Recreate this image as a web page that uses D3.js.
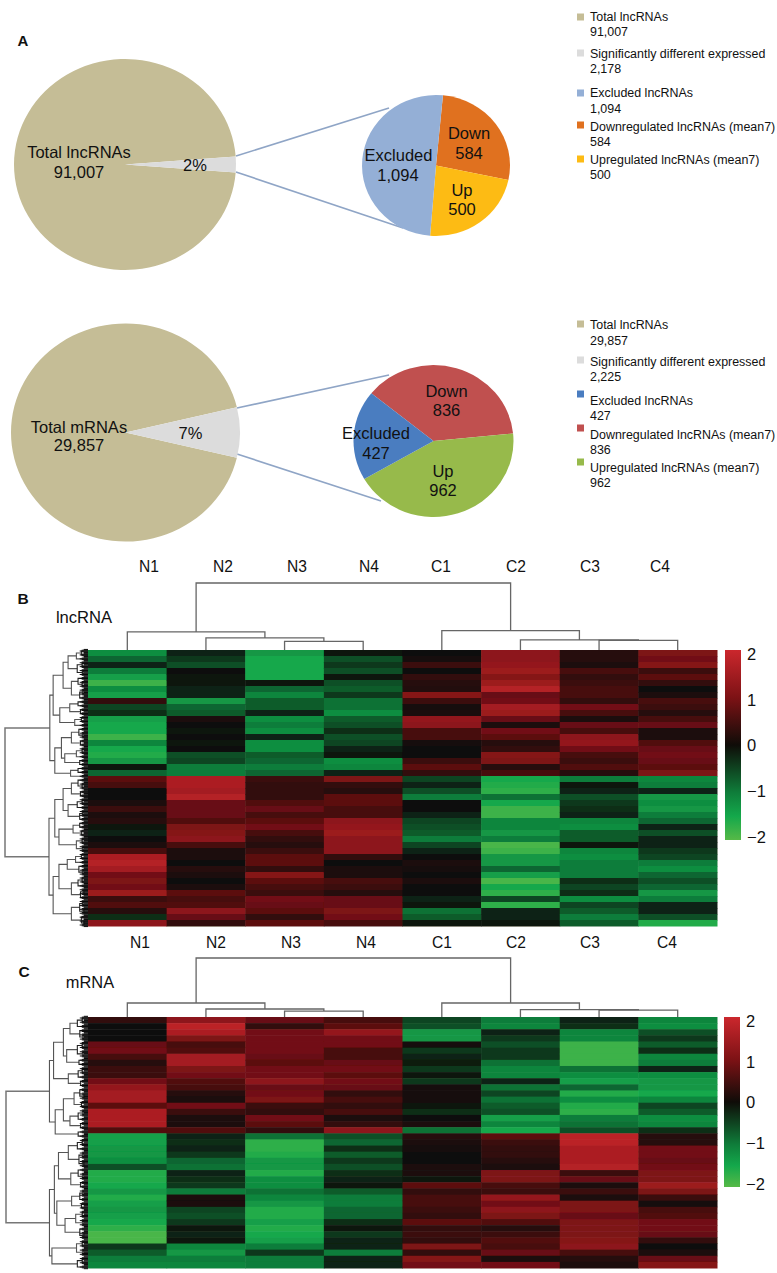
<!DOCTYPE html>
<html><head><meta charset="utf-8">
<script src="https://cdn.jsdelivr.net/npm/d3@7"></script>
<style>html,body{margin:0;padding:0;background:#fff}svg{display:block}text{font-family:"Liberation Sans",Arial,sans-serif;fill:#111}</style>
</head><body><svg id="c" width="777" height="1273"></svg>
<script>
// ---- pie data ----
const lncTotals=[{k:"rest",v:88829},{k:"sig",v:2178}];
const lncParts=[{k:"Down",v:584},{k:"Up",v:500},{k:"Excluded",v:1094}];
const mrnaTotals=[{k:"rest",v:27632},{k:"sig",v:2225}];
const mrnaParts=[{k:"Down",v:836},{k:"Up",v:962},{k:"Excluded",v:427}];
const lncPartColors={Down:"#e0711f",Up:"#fdbb14",Excluded:"#94afd6"};
const mrnaPartColors={Down:"#c0504f",Up:"#97ba4b",Excluded:"#4a7dc0"};
const lncLegend=[["Total lncRNAs","91,007","#c5bd96"],["Significantly different expressed","2,178","#dcdcdc"],["Excluded lncRNAs","1,094","#94afd6"],["Downregulated lncRNAs (mean7)","584","#e0711f"],["Upregulated lncRNAs (mean7)","500","#fdbb14"]];
const mrnaLegend=[["Total lncRNAs","29,857","#c5bd96"],["Significantly different expressed","2,225","#dcdcdc"],["Excluded lncRNAs","427","#4a7dc0"],["Downregulated lncRNAs (mean7)","836","#c0504f"],["Upregulated lncRNAs (mean7)","962","#97ba4b"]];
// ---- heatmap data ----
const samples=["N1","N2","N3","N4","C1","C2","C3","C4"];
const lncN1=[-1.2,-.8,-.2,-1,-1.4,-1.8,-1.2,-1.4,.3,-.5,-.3,-1.4,-1.5,-1.5,-1.8,-1.1,-1.5,-1.6,-1.3,-.1,-.8,.7,.5,0,0,.1,.4,.1,.2,-.1,-.2,0,.1,.5,1.6,1.7,1.5,.9,1,.9,1.4,.4,.6,.2,-.3,1.2];
const lncN2=[-.2,-.4,-.6,0,-.1,-.1,-.2,-.2,-1.3,-.8,-.7,.1,0,-.1,0,-.1,0,-.6,-.5,-1,-1,1.6,1.6,1.5,1.7,.8,.8,.8,.6,1,1.1,1.2,.5,.1,.1,0,.2,.1,0,.1,.7,.5,.6,1.2,.8,.3];
const lncN3=[-1.3,-1.5,-1.5,-1.5,-1.5,-.1,-.8,-1.1,-.7,-.7,-.2,-1.2,-1,-1.2,-.2,-1.2,-1.2,-.7,-.8,-1,-.8,.4,.3,.3,.3,.6,.8,.5,.7,.9,.5,.3,.2,.4,.7,.7,.3,1.1,.7,.5,.4,.9,.8,.7,.3,.7];
const lncN4=[-.1,-.6,-.4,-.6,-.1,-.6,-.7,-.4,-.9,-.9,-1.2,-.7,-.6,-.3,-.6,-.5,-.2,-.1,-1.2,-1.1,-.2,1,.3,.2,.7,.7,.5,.5,1.2,1.3,1.4,1.2,1.2,1.2,.3,0,.1,.1,.5,.4,.2,.8,.8,1,.9,.5];
const lncC1=[0,.05,.4,0,.3,.2,.15,1.1,.4,.05,.1,1.3,1.2,.5,.5,.05,0,0,.4,.7,.3,-.5,-.2,-.6,-1,0,0,-.2,-.5,-.6,-.7,-1,-.5,-.2,0,.1,.05,0,.1,0,0,-.2,-.1,-.9,-.7,-.1];
const lncC2=[1.2,1.2,1.3,1.4,1.1,1.4,1.7,.8,.9,1.5,1.4,.8,.1,.9,.7,.2,.3,1.1,1,.2,.5,-1.5,-1.6,-1.7,-.9,-1.5,-1.8,-1.8,-1.1,-1.1,-1.3,-1,-1.9,-1.8,-1.3,-1.3,-.8,-1.4,-1.9,-1.5,-1.7,-.5,-1.7,-.2,-.2,-.1];
const lncC3=[.2,.2,.1,.5,.3,.4,.5,.5,.3,.9,.5,.1,.8,.5,1.2,1.3,.9,.5,.4,.6,.2,-1,-.1,-.2,-.6,-.4,-.3,-.2,-1.1,-1.2,-.7,-.7,-.1,-1.1,-1.2,-1,-1,-1,-.3,-.5,-.3,-1.2,-.5,-.7,-1,-.7];
const lncC4=[1,.9,1.1,.4,.7,.3,0,.1,.5,.4,.2,.5,.8,.1,.1,.6,.8,.9,.8,.7,1,-1.1,-1,-.2,-1.3,-1.2,-1.3,-1,-.8,-.2,-.6,-.2,-.2,-.4,-.5,-1,-1.2,-.8,-.6,-.8,-1.3,-1,-.2,-.2,-.6,-1.6];
const mrnaN1=[.3,0,0,0,.8,.9,.5,.2,.4,.4,.9,1.3,1.5,1.5,.7,1.6,1.6,1.6,.6,-1.4,-1.4,-1.3,-1.3,-1.2,-.6,-1.6,-1.6,-1.5,-1.3,-1.6,-1.4,-1.3,-1.4,-1.5,-1.7,-1.9,-1.9,-.4,-.7,-1,-1.1];
const mrnaN2=[1.2,1.8,1.6,1,.5,.6,1.5,1.5,1,.9,.6,.5,.2,.1,.9,.4,.1,.1,.6,-.2,-.3,-.2,-.4,-.8,-.9,-.2,-.3,-.4,-1,.1,.1,-.5,-.6,-.4,-.1,-.2,-.1,-1.1,-1.3,-1,-1.1];
const mrnaN3=[.8,.3,.9,.9,.9,.9,.8,.7,.9,.9,1.2,.8,.9,1,.4,.3,.9,.7,.3,-.9,-1.7,-1.7,-1.6,-1.3,-1.3,-1.6,-1.2,-1.2,-.9,-1.1,-1.3,-1.6,-1.6,-1.4,-1.6,-1.5,-1.4,-1,-.4,-1,-1];
const mrnaN4=[.5,.7,1.3,.9,.9,.5,.5,.8,.9,.7,.9,.8,.3,.5,.3,.5,.1,.3,1.2,-.6,-.8,-.3,-.7,-.4,-.6,-.3,-.2,-.1,-.7,-1,-1,-.8,-.8,-.3,-.1,-.4,-.2,-.2,-1,-.2,-.2];
const mrnaC1=[-.5,-.6,-1.3,-1.3,.05,-.4,-.2,-.15,-.4,-.1,-.4,.05,.05,.05,-.05,-.3,0,.1,-.9,.2,.1,.05,0,0,.1,.1,-.1,.7,.3,.5,.5,.4,.3,.7,.3,.4,.3,1,.3,1.1,.9];
const mrnaC2=[-1,-1.1,-.2,-.4,-.6,-.4,-.4,-.9,-1.1,-1.1,-.2,-.9,-.5,-.9,-.7,-.6,-1.4,-1.1,-1.5,.7,.4,.3,.3,.2,.1,1,1,.5,.4,1.3,.9,1.2,1,.6,.2,.4,.6,.5,.8,.1,.9];
const mrnaC3=[-.2,-.3,-1.1,-1.1,-1.8,-1.8,-1.8,-1.8,-.9,-1.2,-1.4,-.8,-1.6,-1.2,-1.6,-1.7,-1,-.9,-.6,1.8,1.8,1.6,1.6,1.6,1.7,.4,.8,.1,.4,.1,1,1,.8,1,1,1,1.1,1.2,.5,.2,.1];
const mrnaC4=[-1.1,-1.2,-.6,-.4,-.7,-.3,-1.1,-1,-.2,-1.2,-1.3,-1.3,-1.5,-1.1,-.5,-.7,-1.2,-1.1,-.3,.2,.2,.9,.9,.8,.9,1,1,1.4,1,.4,.05,.5,.6,.9,.9,.8,.3,0,.1,.8,1.1];
const lncColumns=[lncN1,lncN2,lncN3,lncN4,lncC1,lncC2,lncC3,lncC4];
const mrnaColumns=[mrnaN1,mrnaN2,mrnaN3,mrnaN4,mrnaC1,mrnaC2,mrnaC3,mrnaC4];
const scaleTicks=[2,1,0,-1,-2];
// sample trees: [height,left,right], leaf = sample name
const lncColTree=[1,[.27,"N1",[.18,"N2",[.13,"N3","N4"]]],[.29,"C1",[.15,"C2",[.145,"C3","C4"]]]];
const mrnaColTree=[1,[.237,"N1",[.136,"N2",[.1,"N3","N4"]]],[.237,"C1",[.125,"C2",[.115,"C3","C4"]]]];
// row trees: [height,left,right], leaf = 0
const lncRowTree=[1,
 [.46,
  [.42,
   [.3,[.24,[.14,[.08,0,0],0],[.13,[.07,0,0],[.06,0,0]]],[.2,[.12,0,[.07,0,0]],[.1,[.06,0,0],0]]],
   [.34,[.22,[.12,0,0],[.09,0,0]],[.16,[.08,0,0],0]]],
  [.4,
   [.32,[.2,[.11,0,[.06,0,0]],[.09,0,0]],[.28,[.14,[.07,0,0],0],[.1,0,0]]],
   [.21,[.12,0,0],0]]],
 [.47,
  [.4,
   [.3,[.2,[.12,0,[.07,0,0]],[.09,0,0]],[.24,[.13,[.07,0,0],0],[.1,[.06,0,0],0]]],
   [.35,[.18,[.1,0,0],[.08,0,0]],[.14,[.07,0,0],[.06,0,0]]]],
  [.42,
   [.35,[.25,[.15,[.08,0,0],0],[.11,0,[.06,0,0]]],[.2,[.12,[.07,0,0],0],[.09,[.05,0,0],0]]],
   [.2,[.1,[.06,0,0],[.05,0,0]],[.08,0,[.05,0,0]]]]]];
const mrnaRowTree=[1,
 [.47,
  [.42,
   [.3,[.22,[.13,[.07,0,0],0],[.1,0,[.06,0,0]]],[.26,[.13,[.07,0,0],[.06,0,0]],[.11,0,0]]],
   [.24,[.12,[.07,0,0],0],[.09,0,0]]],
  [.4,
   [.3,[.17,[.1,0,[.05,0,0]],[.08,0,0]],[.22,[.12,[.06,0,0],0],[.09,0,0]]],
   [.12,0,0]]],
 [.47,
  [.41,
   [.36,[.24,[.13,[.07,0,0],0],[.11,[.06,0,0],[.05,0,0]]],[.21,[.12,0,[.06,0,0]],[.09,0,0]]],
   [.38,[.2,[.1,[.06,0,0],0],[.08,0,0]],[.28,[.15,[.07,0,0],[.06,0,0]],[.1,0,[.05,0,0]]]]],
  [.44,[.14,[.07,0,0],[.06,0,0]],[.13,[.07,0,0],0]]]];

const svg=d3.select("#c");
const defs=svg.append("defs");
defs.append("filter").attr("id","soft").attr("x","-2%").attr("y","-2%").attr("width","104%").attr("height","104%")
  .append("feGaussianBlur").attr("stdDeviation","0.5 0.7");

function txt(g,s,x,y,size,anchor,weight){
  return g.append("text").attr("x",x).attr("y",y).attr("font-size",size).attr("text-anchor",anchor||"middle")
    .attr("dominant-baseline","central").attr("font-weight",weight||"normal").text(s);
}
function pie(cx,cy,rx,ry,vals,startDeg,fill){
  const g=svg.append("g").attr("transform",`translate(${cx},${cy}) scale(${rx/100},${ry/100})`);
  const s=startDeg*Math.PI/180;
  const arcs=d3.pie().sort(null).value(d=>d.v).startAngle(s).endAngle(s+2*Math.PI)(vals);
  g.selectAll("path").data(arcs).join("path").attr("d",d3.arc().innerRadius(0).outerRadius(100)).attr("fill",d=>fill(d.data.k));
}
const totalFill=k=>k==="rest"?"#c5bd96":"#dcdcdc";
const halfAngle=t=>t[1].v/(t[0].v+t[1].v)*180;
function connector(x1,y1,x2,y2){svg.append("line").attr("x1",x1).attr("y1",y1).attr("x2",x2).attr("y2",y2).attr("stroke","#8fa5c6").attr("stroke-width",1.6);}

// Panel A, lncRNA
connector(236,156,389,108);connector(236,172,403,228);
pie(125,164.5,111,105.5,lncTotals,90+halfAngle(lncTotals),totalFill);
pie(436,165.5,74,70.5,lncParts,5.4,k=>lncPartColors[k]);
// Panel A, mRNA
connector(237,408,389,375);connector(237,454,381,501);
pie(125.5,432.5,114.5,109,mrnaTotals,90+halfAngle(mrnaTotals),totalFill);
pie(433.5,441,80,76,mrnaParts,-51,k=>mrnaPartColors[k]);

const T=16.5,tA=svg.append("g");
[["Total lncRNAs",79,152],["91,007",79,172],["2%",195,165],["Excluded",398.5,155],["1,094",398,175],["Down",469,133],["584",469,153],["Up",462,190],["500",462,209],
 ["Total mRNAs",79,427],["29,857",79,445],["7%",190.5,433],["Excluded",376,433],["427",376,453],["Down",446.5,391],["836",446.5,410],["Up",443,471],["962",443,490]]
 .forEach(d=>txt(tA,d[0],d[1],d[2],T));
txt(svg,"A",23,40,15,"middle","bold");

function legend(items,textY,squareY){
  const g=svg.append("g");
  items.forEach((it,i)=>{
    g.append("rect").attr("x",577).attr("y",squareY[i]-3.5).attr("width",7).attr("height",7).attr("fill",it[2]);
    txt(g,it[0],590,textY[i][0],12.45,"start");
    txt(g,it[1],590,textY[i][1],12.45,"start");
  });
}
legend(lncLegend,[[17,32],[54,69],[93,109],[127,142],[160,175]],[17,53,93,125,159]);
legend(mrnaLegend,[[325,341],[362,377],[401,416],[435,450],[468,483]],[324,360,394,428,462]);

// Heatmaps
const color=d3.scaleLinear().domain([-2,-1.5,-1,0,1,2]).range(["#56b947","#14a84b","#0f7d3a","#0f0c08","#7d1215","#cb272d"]).clamp(true);
function heatmap(o){
  const x=d3.scaleBand().domain(samples).range([o.x0,o.x1]);
  const nRows=o.cols[0].length;
  const y=d3.scaleBand().domain(d3.range(nRows)).range([o.y0,o.y1]);
  // column dendrogram
  const hTop=d3.scaleLinear().domain([0,1]).range([o.y0,o.rootY]);
  const cr=d3.hierarchy(o.colTree,d=>Array.isArray(d)?d.slice(1):null);
  cr.eachAfter(n=>{n.px=n.children?d3.mean(n.children,c=>c.px):x(n.data)+x.bandwidth()/2;n.py=n.children?hTop(n.data[0]):o.y0;});
  const gd=svg.append("g").attr("fill","none").attr("stroke","#666").attr("stroke-width",1.3);
  cr.descendants().filter(n=>n.children).forEach(n=>{
    const [a,b]=n.children;
    gd.append("path").attr("d",`M${a.px},${a.py}V${n.py}H${b.px}V${b.py}`);
  });
  // row dendrogram
  const hLeft=d3.scaleLinear().domain([0,1]).range([o.x0,o.rootX]);
  const rr=d3.hierarchy(o.rowTree,d=>Array.isArray(d)?d.slice(1):null);
  const lv=rr.leaves();
  const ly=d3.scalePoint().domain(d3.range(lv.length)).range([o.y0+1,o.y1-1]);
  lv.forEach((n,i)=>n.i=i);
  rr.eachAfter(n=>{n.py=n.children?d3.mean(n.children,c=>c.py):ly(n.i);n.px=n.children?hLeft(n.data[0]):o.x0;});
  const gr=svg.append("g").attr("fill","none");
  rr.descendants().filter(n=>n.children).forEach(n=>{
    const [a,b]=n.children;
    gr.append("path").attr("d",`M${a.px},${a.py}H${n.px}V${b.py}H${b.px}`)
      .attr("stroke",n.data[0]>.6?"#777":n.data[0]>.13?"#555":"#222").attr("stroke-width",n.data[0]>.6?1.5:1.1);
  });
  const step=ly.step();
  const fan=svg.append("g").attr("stroke","#0c0c0c").attr("stroke-width",1);
  lv.forEach(n=>[-2,-1,0,1,2].forEach(k=>fan.append("line").attr("x1",hLeft(.1)+Math.abs(k)*2).attr("x2",o.x0)
     .attr("y1",n.py+k*step/5).attr("y2",n.py+k*step/5)));
  // cells
  const g=svg.append("g").attr("filter","url(#soft)");
  samples.forEach((s,c)=>{
    g.append("g").selectAll("rect").data(o.cols[c]).join("rect")
      .attr("x",x(s)).attr("width",x.bandwidth()+.5).attr("y",(d,i)=>y(i)).attr("height",y.bandwidth()+.5).attr("fill",d=>color(d));
  });
  // colour bar
  const id="grad"+o.y0;
  const gr2=defs.append("linearGradient").attr("id",id).attr("x1",0).attr("x2",0).attr("y1",1).attr("y2",0);
  color.domain().forEach(v=>gr2.append("stop").attr("offset",(v+2)/4).attr("stop-color",color(v)));
  svg.append("rect").attr("x",o.barX).attr("y",o.barY0).attr("width",16).attr("height",o.barY1-o.barY0).attr("fill",`url(#${id})`);
  const sc=d3.scaleLinear().domain([2,-2]).range(o.tickRange);
  const ax=svg.append("g").attr("transform",`translate(${o.barX+16},0)`).call(d3.axisRight(sc).tickValues(scaleTicks).tickSize(0).tickPadding(6).tickFormat(d3.format("d")));
  ax.select(".domain").remove();
  ax.selectAll("text").attr("font-size",16.5).attr("font-family",'"Liberation Sans",Arial,sans-serif').attr("fill","#111");
  // sample labels
  o.labelX.forEach((lx,i)=>txt(svg,samples[i],lx,o.labelY,15.6));
}
heatmap({cols:lncColumns,colTree:lncColTree,rowTree:lncRowTree,x0:88,x1:717,y0:650,y1:926,rootY:583,rootX:5,
  barX:725,barY0:650,barY1:840,tickRange:[654,837],labelX:[149,223,297,369,441,516,590,660],labelY:566});
heatmap({cols:mrnaColumns,colTree:mrnaColTree,rowTree:mrnaRowTree,x0:88,x1:717,y0:1017,y1:1268,rootY:958,rootX:6,
  barX:724,barY0:1017,barY1:1187,tickRange:[1021,1184],labelX:[140,216,291,366,442,516,590,667],labelY:942});
txt(svg,"B",23,598,15.5,"middle","bold");
txt(svg,"lncRNA",84,617,16.6);
txt(svg,"C",24,971,15.5,"middle","bold");
txt(svg,"mRNA",90,982,16.4);
</script></body></html>
